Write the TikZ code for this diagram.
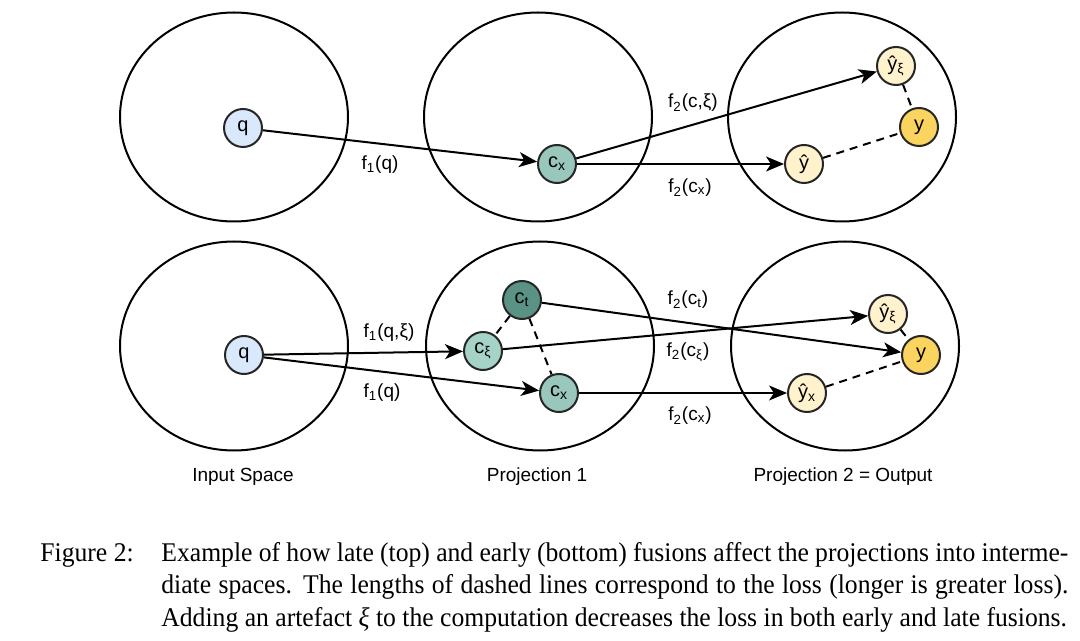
\documentclass[tikz,border=0pt]{standalone}
\usepackage{fontspec}
\setmainfont{Liberation Sans}
\newfontfamily\capfont[FakeStretch=0.95]{Liberation Serif}
\usetikzlibrary{arrows.meta,positioning}

\definecolor{qblue}{HTML}{DAE8FC}
\definecolor{cteal}{HTML}{9AC7BC}
\definecolor{clight}{HTML}{A6D3C7}
\definecolor{cdark}{HTML}{5A9385}
\definecolor{ylight}{HTML}{FFF2CC}
\definecolor{ygold}{HTML}{FBD35F}

\begin{document}
\begin{tikzpicture}[x=0.5pt, y=-0.5pt,
    pt/.style={circle, draw=black!85, line width=1pt, minimum size=19pt, inner sep=0pt, font=\fontsize{10}{12}\selectfont},
    lbl/.style={font=\fontsize{9.5}{11}\selectfont, inner sep=1pt},
    flow/.style={-{Stealth[length=9pt,width=7.5pt,inset=2.5pt]}, line width=1pt},
    loss/.style={dash pattern=on 4pt off 3pt, line width=1pt},
    space/.style={line width=1pt},
    captext/.style={inner sep=0pt, font=\capfont\fontsize{13.5}{16.25}\selectfont}]
    \useasboundingbox (0,0) rectangle (1080,641);

    % The six spaces
    \foreach \cx/\cy in {234/117, 538/117, 842/117, 234/346, 540/346, 845/346}
        \draw[space] (\cx,\cy) ellipse [x radius=57pt, y radius=52.25pt];

    % Top row: late fusion
    \node[pt, fill=qblue] (q1) at (243,128) {q};
    \node[pt, fill=cteal] (cx1) at (557,164) {c\textsubscript{x}};
    \node[pt, fill=ylight] (yxi1) at (896,66) {ŷ\textsubscript{ξ}};
    \node[pt, fill=ygold] (y1) at (919,127) {y};
    \node[pt, fill=ylight] (yh1) at (804,164) {ŷ};

    \draw[flow] (q1) -- (cx1);
    \draw[flow] (cx1) -- (yxi1);
    \draw[flow] (cx1) -- (yh1);
    \draw[loss] (yxi1) -- (y1);
    \draw[loss] (yh1) -- (y1);

    \node[lbl] (f1q1) at (380,165) {f\textsubscript{1}(q)};
    \node[lbl] (f2cxi1) at (693,103) {f\textsubscript{2}(c,ξ)};
    \node[lbl] (f2cx1) at (690,188) {f\textsubscript{2}(c\textsubscript{x})};

    % Bottom row: early fusion
    \node[pt, fill=qblue] (q2) at (244,355) {q};
    \node[pt, fill=cdark] (ct2) at (522,300) {c\textsubscript{t}};
    \node[pt, fill=clight] (cxi2) at (483,351) {c\textsubscript{ξ}};
    \node[pt, fill=cteal] (cx2) at (559,393) {c\textsubscript{x}};
    \node[pt, fill=ylight] (yxi2) at (888,314) {ŷ\textsubscript{ξ}};
    \node[pt, fill=ygold] (y2) at (921,355) {y};
    \node[pt, fill=ylight] (yx2) at (807,393) {ŷ\textsubscript{x}};

    \draw[flow] (q2) -- (cxi2);
    \draw[flow] (q2) -- (cx2);
    \draw[flow] (ct2) -- (y2);
    \draw[flow] (cxi2) -- (yxi2);
    \draw[flow] (cx2) -- (yx2);
    \draw[loss] (ct2) -- (cxi2);
    \draw[loss] (ct2) -- (cx2);
    \draw[loss] (yxi2) -- (y2);
    \draw[loss] (yx2) -- (y2);

    \node[lbl] (f1qxi2) at (389,333) {f\textsubscript{1}(q,ξ)};
    \node[lbl] (f1q2) at (382,393) {f\textsubscript{1}(q)};
    \node[lbl] (f2ct2) at (688,300) {f\textsubscript{2}(c\textsubscript{t})};
    \node[lbl] (f2cxi2) at (688,352) {f\textsubscript{2}(c\textsubscript{ξ})};
    \node[lbl] (f2cx2) at (690,416) {f\textsubscript{2}(c\textsubscript{x})};

    % Space names
    \node[lbl] (input) at (243,477) {Input Space};
    \node[lbl] (proj1) at (537,477) {Projection 1};
    \node[lbl] (proj2) at (843,477) {Projection 2 = Output};

    % Caption
    \node[captext, anchor=base west] (figno) at (40,561) {Figure 2:};
    \node[captext, anchor=base west, text width=453.5pt, align=justify] (caption) at (161,561)
        {\parfillskip=0pt Example of how late (top) and early (bottom) fusions affect the projections into interme-\linebreak diate spaces. The lengths of dashed lines correspond to the loss (longer is greater loss).\linebreak Adding an artefact {\itshape ξ} to the computation decreases the loss in both early and late fusions.};
\end{tikzpicture}
\end{document}
